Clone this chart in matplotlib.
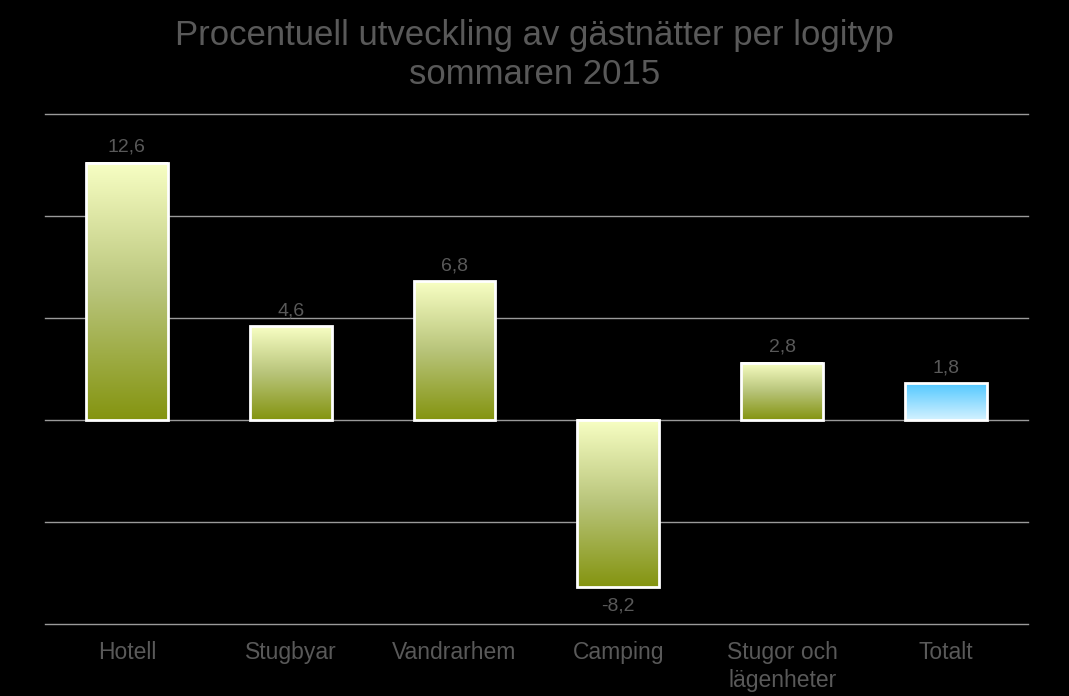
import numpy as np
import matplotlib
matplotlib.use("Agg")
import matplotlib.pyplot as plt
from matplotlib.colors import LinearSegmentedColormap

plt.rcParams['font.family'] = ['Liberation Sans', 'DejaVu Sans']

kategorier = ["Hotell", "Stugbyar", "Vandrarhem", "Camping", "Stugor och\nlägenheter", "Totalt"]
utveckling = [12.6, 4.6, 6.8, -8.2, 2.8, 1.8]
etiketter = ["12,6", "4,6", "6,8", "-8,2", "2,8", "1,8"]
yticks = [-10, -5, 0, 5, 10, 15]

gron = LinearSegmentedColormap.from_list("gron", ["#849410", "#b8c47a", "#f8ffc4"])
bla = LinearSegmentedColormap.from_list("bla", ["#d4f2ff", "#52c8ff"])

fig = plt.figure(figsize=(10.69, 6.96), dpi=100, facecolor="black")
ax = fig.add_axes([0.042, 0.1034, 0.9196, 0.7328])
ax.set_facecolor("black")

grad = np.linspace(0, 1, 256).reshape(-1, 1)
w = 0.5
for i, v in enumerate(utveckling):
    cmap = bla if kategorier[i] == "Totalt" else gron
    lo, hi = min(0, v), max(0, v)
    ax.imshow(grad, cmap=cmap, origin="lower", aspect="auto",
              extent=[i - w / 2, i + w / 2, lo, hi], zorder=2)
    ax.bar(i, v, width=w, facecolor="none", edgecolor="white", linewidth=2, zorder=3)
    if v >= 0:
        ax.text(i, v + 0.35, etiketter[i], ha="center", va="bottom", color="#595959", fontsize=14)
    else:
        ax.text(i, v - 0.5, etiketter[i], ha="center", va="top", color="#595959", fontsize=14)

ax.set_xlim(-0.5, len(kategorier) - 0.5)
ax.set_ylim(-10, 15)
ax.set_yticks(yticks)
ax.set_yticklabels([])
ax.yaxis.grid(True, color="#9a9a9a", linewidth=1)
for gl in ax.get_ygridlines():
    gl.set_clip_on(False)
ax.set_axisbelow(True)
ax.tick_params(axis="y", length=0)
ax.tick_params(axis="x", length=0, pad=12, labelsize=16.5, labelcolor="#595959")
ax.set_xticks(range(len(kategorier)))
ax.set_xticklabels(kategorier, va="top", linespacing=1.3)
for s in ax.spines.values():
    s.set_visible(False)

fig.text(0.5, 0.921, "Procentuell utveckling av gästnätter per logityp\nsommaren 2015",
         ha="center", va="center", color="#595959", fontsize=25, linespacing=1.2)

fig.savefig("out.png", dpi=100, facecolor="black")
